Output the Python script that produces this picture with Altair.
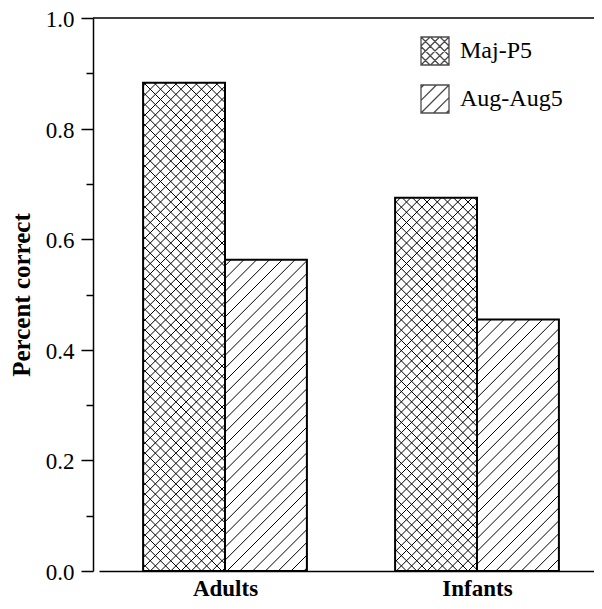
import json
import altair as alt
import pandas as pd

# ---- data ----
categories = ["Adults", "Infants"]
series = ["Maj-P5", "Aug-Aug5"]
maj_p5 = [0.883, 0.675]
aug_aug5 = [0.563, 0.455]
y_ticks = [0.0, 0.1, 0.2, 0.3, 0.4, 0.5, 0.6, 0.7, 0.8, 0.9, 1.0]

rows = []
for i, c in enumerate(categories):
    rows.append({"group": c, "series": series[0], "value": maj_p5[i]})
    rows.append({"group": c, "series": series[1], "value": aug_aug5[i]})
df = pd.DataFrame(rows)

# ---- layout / style constants ----
W, H = 501, 553
KX = 252.0          # pixels per category unit on x
BW = 0.325          # bar width in category units
P_CROSS = 10.25     # hatch period (px) for cross-hatch
P_DIAG = 12.8       # hatch period (px) for diagonal hatch
FONT = "Liberation Serif"

cats_js = json.dumps(categories)
series_js = json.dumps(series)


def hatch_path(period, families):
    parts = ["M-1,-1L1,-1L1,1L-1,1Z"]
    k = -6
    while k <= 6:
        c = k * period
        for f in families:
            if f == "/":
                lo, hi = max(-1, c - 1), min(1, c + 1)
                if hi - lo > 0.05:
                    parts.append(f"M{lo:.3f},{-lo + c:.3f}L{hi:.3f},{-hi + c:.3f}")
            else:
                lo, hi = max(-1, -1 - c), min(1, 1 - c)
                if hi - lo > 0.05:
                    parts.append(f"M{lo:.3f},{lo + c:.3f}L{hi:.3f},{hi + c:.3f}")
        k += 1
    return "".join(parts)


cross_path = hatch_path(0.68, ["/", "\\"])
diag_path = hatch_path(0.9, ["/"])

xs = alt.Scale(domain=[0, 2], range=[6, 510], nice=False, zero=False, padding=0)
ys = alt.Scale(domain=[0, 1], nice=False, zero=True, padding=0)

x_axis = alt.Axis(
    values=[0.5, 1.5],
    labelExpr=f"{cats_js}[floor(datum.value)]",
    title=None,
    ticks=False,
    grid=False,
    domain=True,
    domainColor="black",
    domainWidth=1.5,
    labelFont=FONT,
    labelFontSize=23,
    labelFontWeight="bold",
    labelColor="black",
    labelPadding=6,
    labelFlush=False,
    labelOverlap=False,
)

y_axis = alt.Axis(
    values=y_ticks,
    labelExpr="round(datum.value * 10) % 2 == 0 ? format(datum.value, '.1f') : ''",
    tickSize={"condition": {"test": "round(datum.value * 10) % 2 == 1", "value": 7}, "value": 12},
    tickColor="black",
    tickWidth=1.5,
    grid=False,
    domain=True,
    domainColor="black",
    domainWidth=1.5,
    labelFont=FONT,
    labelFontSize=23,
    labelColor="black",
    labelPadding=7,
    labelOffset=1.5,
    labelOverlap=False,
    title="Percent correct",
    titleFont=FONT,
    titleFontSize=25,
    titleFontWeight="bold",
    titleColor="black",
    titleAngle=270,
    titleX=-72,
    titleY=H / 2,
    titleAlign="center",
    titleBaseline="middle",
)

base = alt.Chart(df).transform_calculate(
    gi=f"indexof({cats_js}, datum.group)",
    si=f"indexof({series_js}, datum.series)",
).transform_calculate(
    x0=f"datum.gi + 0.5 - {BW} + datum.si * {BW}",
).transform_calculate(
    x1=f"datum.x0 + {BW}",
)

hatch = base.transform_calculate(
    X0=f"datum.x0 * {KX}",
    X1=f"datum.x1 * {KX}",
    HH=f"datum.value * {H}",
    p=f"datum.si == 0 ? {P_CROSS} : {P_DIAG}",
    fams="datum.si == 0 ? [1, -1] : [1]",
).transform_flatten(["fams"], as_=["d"]).transform_calculate(
    cmin="datum.d == 1 ? -datum.X1 : datum.X0",
    cmax="datum.d == 1 ? datum.HH - datum.X0 : datum.X1 + datum.HH",
).transform_calculate(
    ks="sequence(floor(datum.cmin / datum.p), ceil(datum.cmax / datum.p) + 1)",
).transform_flatten(["ks"], as_=["k"]).transform_calculate(
    c="datum.k * datum.p",
).transform_calculate(
    lo="max(datum.X0, datum.d == 1 ? -datum.c : datum.c - datum.HH)",
    hi="min(datum.X1, datum.d == 1 ? datum.HH - datum.c : datum.c)",
).transform_filter("datum.hi - datum.lo > 0.3").transform_calculate(
    hx=f"datum.lo / {KX}",
    hx2=f"datum.hi / {KX}",
    hy=f"(datum.d * datum.lo + datum.c) / {H}",
    hy2=f"(datum.d * datum.hi + datum.c) / {H}",
).mark_rule(color="black", strokeWidth=1).encode(
    x=alt.X("hx:Q", scale=xs, axis=x_axis),
    x2="hx2:Q",
    y=alt.Y("hy:Q", scale=ys, axis=y_axis),
    y2="hy2:Q",
)

bars = base.mark_bar(
    orient="vertical", fill="white", fillOpacity=0, stroke="black", strokeWidth=2
).encode(
    x=alt.X("x0:Q", scale=xs, axis=x_axis),
    x2="x1:Q",
    y=alt.Y("value:Q", scale=ys, axis=y_axis),
    y2=alt.datum(0.0),
)

top_line = alt.Chart(df).transform_aggregate(n="count()").mark_rule(
    color="black", strokeWidth=1.5
).encode(y=alt.datum(1.0, scale=ys, axis=y_axis))

legend_layer = base.transform_filter("false").mark_point(
    filled=False, color="black", strokeWidth=1.3
).encode(
    x=alt.X("x0:Q", scale=xs, axis=x_axis),
    y=alt.Y("value:Q", scale=ys, axis=y_axis),
    shape=alt.Shape(
        "series:N",
        scale=alt.Scale(domain=series, range=[cross_path, diag_path]),
        legend=alt.Legend(
            title=None,
            orient="none",
            legendX=327,
            legendY=18,
            padding=0,
            symbolSize=784,
            symbolStrokeWidth=1.3,
            symbolFillColor="white",
            symbolStrokeColor="black",
            symbolOffset=0,
            labelFont=FONT,
            labelFontSize=24,
            labelColor="black",
            labelOffset=10,
            rowPadding=14,
        ),
    ),
)

chart = alt.layer(hatch, bars, top_line, legend_layer).properties(
    width=W,
    height=H,
    autosize=alt.AutoSizeParams(type="none"),
    padding={"left": 85, "top": 10, "right": 0, "bottom": 30},
    background="white",
).configure_view(stroke=None)

chart.save("out.html", embed_options={"renderer": "svg", "actions": False})
